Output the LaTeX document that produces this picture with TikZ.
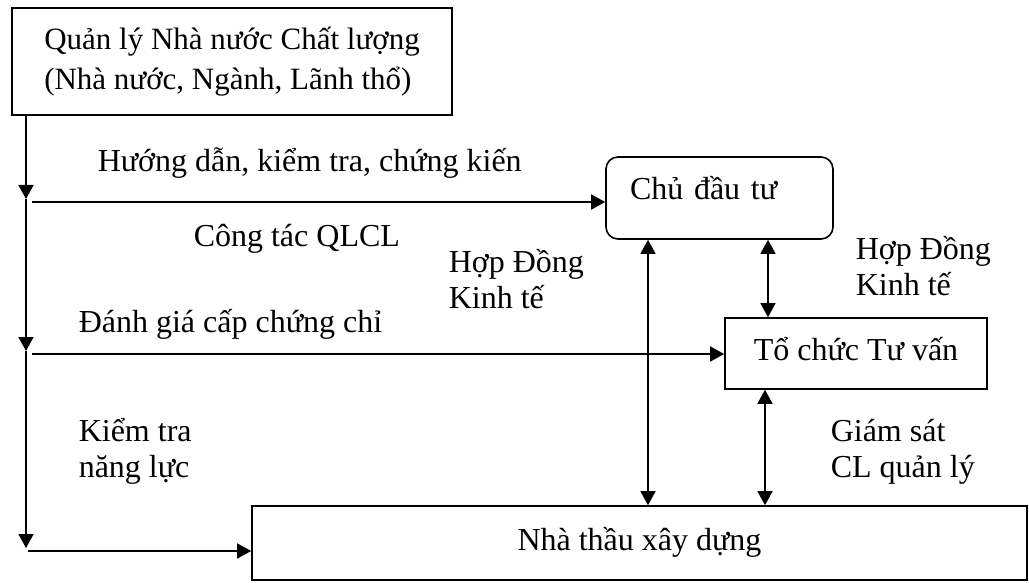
\documentclass[tikz,border=0pt]{standalone}
\usepackage{fontspec}
\setmainfont{Liberation Serif}
\usetikzlibrary{arrows.meta,positioning}

\begin{document}
\begin{tikzpicture}[x=1pt,y=-1pt,line width=1.5pt,
    tip/.tip={Triangle[length=14pt,width=15pt]},
    arr/.style={-tip},
    dbl/.style={tip-tip},
    box/.style={draw,line width=1.6pt,inner sep=0pt,font=\fontsize{32}{40}\selectfont},
    lbl/.style={anchor=base west,inner sep=0pt,align=left,font=\fontsize{32}{36}\selectfont}]
  \useasboundingbox (0,0) rectangle (1029,583);
  % boxes
  \node[box,minimum width=440pt,minimum height=107pt,align=left,font=\fontsize{31}{40}\selectfont] (qlnn) at (232,61.5)
    {Quản lý Nhà nước Chất lượng\\(Nhà nước, Ngành, Lãnh thổ)};
  \node[box,rounded corners=12pt,minimum width=227pt,minimum height=82pt,text width=179pt,
    text height=24pt,text depth=20pt,align=left] (cdt) at (719.5,198) {Chủ đầu tư};
  \node[box,minimum width=262pt,minimum height=71pt,text height=24pt,text depth=11pt] (tctv) at (856,353.5)
    {Tổ chức Tư vấn};
  \node[box,minimum width=775pt,minimum height=74pt,text height=24pt,text depth=10pt] (ntxd) at (639.5,543)
    {Nhà thầu xây dựng};
  % spine and branches
  \coordinate (j1) at (26,199);
  \coordinate (j2) at (26,351);
  \coordinate (j3) at (26,548);
  \coordinate (h1) at (32,202);
  \coordinate (h2) at (32,354);
  \coordinate (h3) at (28,551);
  \draw[arr] (qlnn.south -| j1) -- (j1);
  \draw[arr] (j1) -- (j2);
  \draw[arr] (j2) -- (j3);
  \draw[arr] (h1) -- (h1 -| cdt.west);
  \draw[arr] (h2) -- (h2 -| tctv.west);
  \draw[arr] (h3) -- (h3 -| ntxd.west);
  % contracts
  \coordinate (v1) at (648,0);
  \coordinate (v2) at (768,0);
  \coordinate (v3) at (765,0);
  \draw[dbl] (cdt.south -| v1) -- (ntxd.north -| v1);
  \draw[dbl] (cdt.south -| v2) -- (tctv.north -| v2);
  \draw[dbl] (tctv.south -| v3) -- (ntxd.north -| v3);
  % labels
  \node[lbl] (huongdan) at (97,172) {Hướng dẫn, kiểm tra, chứng kiến};
  \node[lbl] (congtac) at (193,247) {Công tác QLCL};
  \node[lbl] (danhgia) at (78,332) {Đánh giá cấp chứng chỉ};
  \node[lbl] (kiemtra) at (78,477) {Kiểm tra\\năng lực};
  \node[lbl] (hopdong1) at (448,308) {Hợp Đồng\\Kinh tế};
  \node[lbl] (hopdong2) at (855,295) {Hợp Đồng\\Kinh tế};
  \node[lbl] (giamsat) at (830,477) {Giám sát\\CL quản lý};
\end{tikzpicture}
\end{document}
